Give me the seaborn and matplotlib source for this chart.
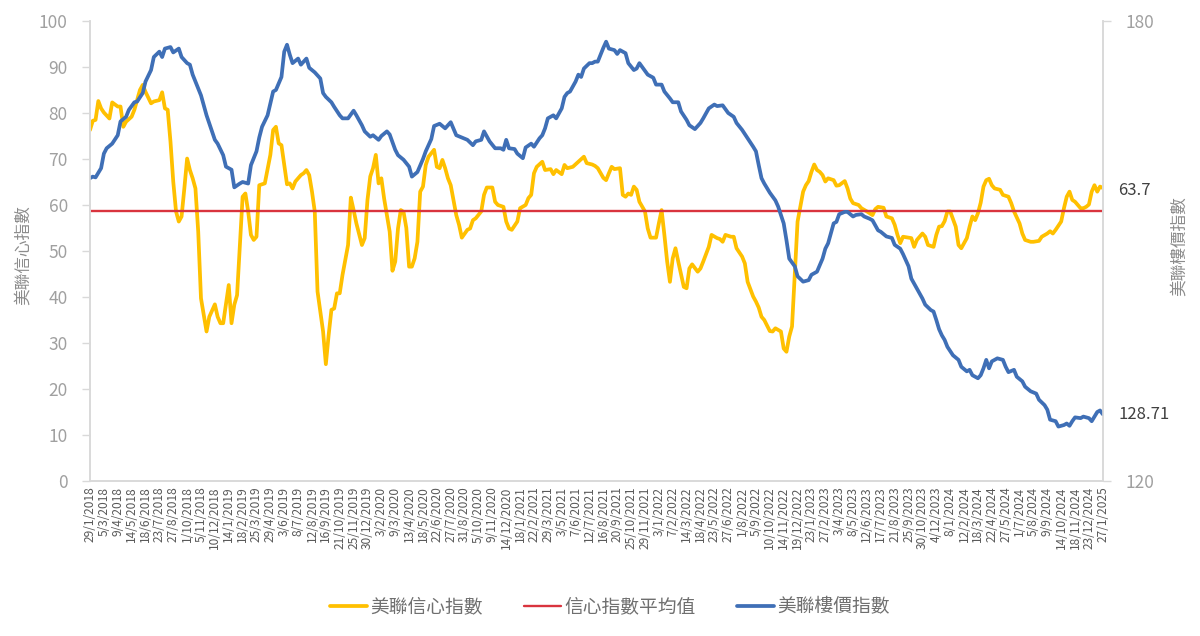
import numpy as np
import pandas as pd
import matplotlib
matplotlib.use("Agg")
import matplotlib.pyplot as plt
import seaborn as sns

# ---------------- data ----------------
start_date = "2018-01-29"      # first weekly observation (Mondays)
n_weeks = 366                  # 29/1/2018 .. 27/1/2025
tick_every = 5                 # a date label every 5 weeks

# 美聯信心指數 (left axis) : week number from start, value
conf_weeks = [0, 1, 2, 3, 4, 5, 7, 8, 10, 11, 12, 13, 15, 16, 18, 19, 20, 22, 23, 25, 26, 27, 28, 29, 30,
              31, 32, 33, 34, 35, 36, 37, 38, 39, 40, 41, 42, 43, 45, 46, 47, 48, 50, 51, 52, 53, 55, 56,
              57, 58, 59, 60, 61, 63, 65, 66, 67, 68, 69, 70, 71, 72, 73, 74, 76, 77, 78, 79, 80, 81, 82,
              84, 85, 86, 87, 88, 89, 90, 91, 93, 94, 95, 96, 98, 99, 100, 101, 102, 103, 104, 105, 106,
              108, 109, 110, 111, 112, 113, 114, 115, 116, 117, 118, 119, 120, 121, 122, 124, 125, 126,
              127, 128, 129, 130, 132, 133, 134, 136, 137, 138, 139, 141, 142, 143, 145, 146, 147, 149,
              150, 151, 152, 154, 155, 157, 158, 159, 160, 161, 163, 164, 166, 167, 168, 170, 171, 172,
              174, 176, 178, 179, 181, 182, 183, 185, 186, 187, 188, 189, 191, 192, 193, 194, 195, 196,
              197, 198, 200, 201, 202, 204, 205, 206, 207, 208, 209, 210, 211, 212, 214, 215, 216, 217,
              219, 220, 221, 223, 224, 226, 227, 228, 229, 231, 232, 233, 235, 236, 237, 239, 240, 241,
              242, 243, 245, 246, 247, 249, 250, 251, 252, 253, 254, 255, 257, 258, 259, 260, 261, 262,
              263, 264, 265, 266, 268, 269, 270, 272, 273, 274, 275, 277, 278, 280, 282, 283, 284, 286,
              287, 289, 290, 291, 292, 293, 295, 296, 297, 298, 300, 301, 302, 304, 305, 306, 307, 308,
              309, 310, 312, 313, 314, 316, 317, 318, 319, 320, 321, 322, 323, 324, 325, 326, 328, 329,
              331, 332, 333, 335, 336, 337, 339, 340, 342, 343, 345, 346, 347, 348, 350, 351, 352, 353,
              354, 355, 357, 358, 359, 360, 361, 362, 363, 364, 365]
conf_values = [76.3, 78.3, 78.5, 82.6, 81.0, 80.1, 78.8, 82.3, 81.4, 81.4, 77.0, 78.1, 79.2, 80.7, 85.0,
               86.1, 84.6, 82.1, 82.5, 82.8, 84.5, 81.0, 80.7, 73.8, 65.1, 58.6, 56.4, 57.5, 63.6, 70.1,
               67.6, 65.8, 63.6, 54.2, 39.7, 36.1, 32.5, 35.7, 38.4, 35.7, 34.3, 34.3, 42.6, 34.3, 38.3,
               40.4, 61.8, 62.5, 58.6, 53.5, 52.4, 53.1, 64.3, 64.7, 70.9, 76.3, 77.0, 73.4, 73.0, 68.7,
               64.5, 64.7, 63.6, 65.1, 66.5, 66.9, 67.6, 66.5, 62.9, 58.6, 41.2, 32.5, 25.4, 31.7, 37.2,
               37.5, 40.8, 40.8, 44.8, 51.3, 61.6, 58.9, 56.0, 51.3, 52.8, 61.1, 66.2, 68.0, 70.9, 64.7,
               65.8, 61.4, 54.2, 45.7, 47.7, 54.9, 58.9, 58.5, 55.0, 46.6, 46.6, 48.4, 52.0, 62.9, 64.0,
               68.7, 70.5, 72.0, 68.3, 68.0, 69.8, 68.0, 65.8, 64.3, 57.8, 55.7, 52.9, 54.6, 54.9, 56.7,
               57.1, 58.6, 62.2, 63.8, 63.8, 60.7, 60.0, 59.6, 56.4, 54.9, 54.6, 56.4, 59.3, 60.0, 61.5,
               62.2, 66.9, 68.3, 69.4, 67.6, 67.8, 66.7, 67.6, 66.7, 68.7, 68.0, 68.3, 69.4, 70.5, 69.1,
               68.8, 68.5, 68.0, 65.9, 65.4, 66.9, 68.3, 67.8, 68.0, 62.2, 61.8, 62.5, 62.2, 64.0, 63.3,
               60.7, 58.6, 54.9, 52.9, 52.9, 56.0, 58.9, 53.5, 47.7, 43.3, 48.4, 50.6, 47.7, 42.2, 41.9,
               46.2, 47.1, 45.5, 46.2, 47.7, 50.9, 53.5, 52.8, 52.6, 52.0, 53.5, 53.1, 53.1, 50.6, 48.8,
               47.3, 43.3, 40.1, 39.0, 37.7, 35.7, 35.0, 32.6, 32.5, 33.2, 32.5, 28.8, 28.1, 31.4, 33.6,
               44.8, 56.4, 62.9, 64.3, 65.2, 67.2, 68.8, 67.6, 67.2, 66.5, 65.1, 65.8, 65.4, 64.2, 64.3,
               65.2, 63.6, 61.4, 60.4, 60.0, 59.3, 58.6, 57.8, 59.1, 59.6, 59.4, 57.5, 57.1, 55.7, 53.5,
               51.7, 53.1, 52.9, 52.8, 50.9, 52.4, 53.8, 53.1, 51.3, 50.9, 53.5, 55.3, 55.4, 56.5, 58.6,
               58.6, 55.3, 51.3, 50.6, 52.8, 55.3, 57.5, 56.7, 58.2, 60.5, 64.0, 65.4, 65.7, 64.3, 63.6,
               63.3, 62.2, 61.8, 60.4, 58.6, 56.0, 53.8, 52.4, 52.0, 52.0, 52.2, 53.1, 53.8, 54.3, 53.8,
               54.6, 56.4, 59.3, 61.8, 62.9, 61.1, 60.7, 59.3, 59.3, 59.6, 60.1, 62.9, 64.3, 62.9, 64.0,
               63.7]

# 信心指數平均值 (left axis)
conf_average = 58.6

# 美聯樓價指數 (right axis)
price_weeks = [0, 1, 2, 4, 5, 6, 8, 10, 11, 13, 14, 16, 17, 19, 20, 22, 23, 25, 26, 27, 29, 30, 32, 33,
               35, 36, 37, 39, 40, 42, 45, 46, 48, 49, 51, 52, 54, 55, 57, 58, 60, 61, 62, 64, 66, 67, 69,
               70, 71, 72, 73, 75, 76, 78, 79, 81, 83, 84, 85, 87, 88, 90, 91, 93, 95, 96, 98, 99, 101,
               102, 104, 105, 107, 108, 110, 111, 113, 115, 116, 118, 120, 121, 123, 124, 126, 128, 130,
               132, 134, 136, 138, 139, 141, 142, 144, 146, 148, 149, 150, 151, 153, 154, 156, 157, 159,
               160, 162, 163, 164, 165, 167, 168, 170, 171, 172, 173, 175, 176, 177, 178, 180, 181, 182,
               183, 184, 185, 186, 187, 189, 190, 191, 193, 194, 196, 197, 198, 200, 201, 203, 204, 206,
               207, 209, 210, 212, 213, 215, 216, 218, 220, 221, 223, 225, 226, 228, 230, 232, 233, 235,
               237, 239, 240, 241, 242, 243, 245, 247, 248, 250, 251, 252, 254, 255, 257, 259, 260, 262,
               264, 265, 266, 268, 269, 270, 272, 273, 275, 276, 278, 279, 281, 282, 284, 285, 287, 289,
               290, 292, 293, 295, 296, 298, 300, 301, 303, 304, 305, 306, 307, 308, 309, 311, 313, 314,
               316, 317, 318, 320, 321, 322, 323, 324, 325, 327, 329, 330, 331, 333, 334, 336, 337, 339,
               341, 342, 344, 345, 346, 348, 349, 351, 352, 353, 354, 355, 357, 358, 360, 361, 362, 363,
               364, 365]
price_values = [159.5, 159.7, 159.6, 160.8, 162.7, 163.4, 164.0, 165.1, 166.9, 167.5, 168.4, 169.4,
                169.5, 170.6, 172.1, 173.6, 175.3, 176.0, 175.3, 176.4, 176.6, 175.9, 176.4, 175.3,
                174.5, 174.3, 173.0, 171.2, 170.3, 167.7, 164.5, 164.0, 162.5, 161.0, 160.6, 158.3,
                158.8, 159.0, 158.8, 161.2, 163.0, 164.8, 166.2, 167.7, 170.8, 171.0, 172.7, 176.0,
                176.9, 175.6, 174.5, 175.1, 174.3, 175.1, 173.9, 173.3, 172.5, 170.6, 170.1, 169.4,
                168.8, 167.7, 167.3, 167.3, 168.3, 167.7, 166.4, 165.6, 164.9, 165.1, 164.5, 165.0,
                165.6, 165.2, 163.2, 162.5, 161.9, 161.0, 159.7, 160.3, 162.0, 163.0, 164.6, 166.3,
                166.6, 166.0, 166.8, 165.1, 164.8, 164.5, 163.8, 164.3, 164.5, 165.6, 164.3, 163.4,
                163.4, 163.2, 164.5, 163.4, 163.3, 162.7, 162.1, 163.5, 164.0, 163.6, 164.7, 165.1,
                166.0, 167.3, 167.7, 167.3, 168.6, 170.1, 170.6, 170.8, 172.1, 173.0, 172.7, 173.8,
                174.5, 174.5, 174.7, 174.7, 175.6, 176.5, 177.3, 176.4, 176.2, 175.7, 176.2, 175.8,
                174.5, 173.6, 173.8, 174.5, 173.5, 173.0, 172.6, 171.7, 171.7, 170.8, 169.9, 169.4,
                169.4, 168.2, 167.1, 166.4, 165.9, 166.7, 167.3, 168.6, 169.1, 168.9, 169.0, 168.0,
                167.5, 166.7, 165.8, 164.7, 163.6, 163.0, 161.2, 159.5, 158.8, 157.6, 156.6, 155.8,
                153.6, 151.4, 149.0, 148.0, 146.7, 146.0, 146.2, 146.9, 147.3, 149.0, 150.3, 151.0,
                153.6, 153.8, 154.8, 155.1, 155.1, 154.5, 154.7, 154.8, 154.5, 154.2, 154.0, 152.7,
                152.5, 151.9, 151.7, 150.8, 150.3, 149.6, 148.0, 146.4, 145.1, 143.8, 143.0, 142.3,
                142.1, 141.0, 139.8, 139.0, 138.4, 137.5, 136.4, 135.8, 134.9, 134.3, 134.5, 133.8,
                133.4, 133.8, 134.7, 135.8, 134.7, 135.6, 136.0, 135.8, 134.9, 134.2, 134.5, 133.6,
                133.0, 132.3, 131.7, 131.4, 130.6, 129.9, 129.3, 128.0, 127.8, 127.1, 127.3, 127.5,
                127.2, 127.8, 128.3, 128.2, 128.4, 128.2, 127.8, 128.4, 129.0, 129.2, 128.71]

series_names = ["美聯信心指數", "信心指數平均值", "美聯樓價指數"]
left_ticks = list(range(0, 101, 10))
right_ticks = [120, 180]

# ---------------- build frames ----------------
all_dates = pd.date_range(start_date, periods=n_weeks, freq="7D")
tick_weeks = list(range(0, n_weeks, tick_every))
tick_labels = [f"{d.day}/{d.month}/{d.year}" for d in all_dates[tick_weeks]]

conf_df = pd.DataFrame({"week": conf_weeks, "value": conf_values})
price_df = pd.DataFrame({"week": price_weeks, "value": price_values})
avg_df = pd.DataFrame({"week": [0, n_weeks - 1], "value": [conf_average, conf_average]})

# ---------------- style ----------------
sns.set_theme(style="white")
plt.rcParams["font.family"] = ["Noto Sans CJK TC", "DejaVu Sans"]

YELLOW = "#FFC000"
RED = "#D9343E"
BLUE = "#3F6FB6"
SPINE = "#D9D9D9"
TICK_TXT = "#A0A0A0"
TITLE_TXT = "#8C8C8C"
LEG_TXT = "#6F6F6F"

fig = plt.figure(figsize=(12, 6.36), dpi=100)
ax = fig.add_axes([0.075, 0.2437, 0.844, 0.7233])
ax2 = ax.twinx()

sns.lineplot(data=conf_df, x="week", y="value", ax=ax, color=YELLOW, lw=2.7,
             label=series_names[0], legend=False)
sns.lineplot(data=avg_df, x="week", y="value", ax=ax, color=RED, lw=1.7,
             label=series_names[1], legend=False)
sns.lineplot(data=price_df, x="week", y="value", ax=ax2, color=BLUE, lw=2.7,
             label=series_names[2], legend=False)

ax.set_xlim(0, n_weeks - 1)
ax.set_ylim(0, 100)
ax2.set_ylim(120, 180)

ax.set_yticks(left_ticks)
ax2.set_yticks(right_ticks)
ax.set_xticks(tick_weeks)
ax.set_xticklabels(tick_labels, rotation=90, fontsize=8.6, color="#595959", va="top", ha="center")

ax.tick_params(axis="y", which="both", length=6, width=1, color=SPINE, labelsize=12.5,
               labelcolor=TICK_TXT, pad=10, left=True)
ax.tick_params(axis="x", length=0, pad=4)
ax2.tick_params(axis="y", which="both", length=6, width=1, color=SPINE, labelsize=12.5,
                labelcolor=TICK_TXT, pad=10, right=True)

ax.set_xlabel("")
ax.set_ylabel(series_names[0], fontsize=12, color=TITLE_TXT)
ax2.set_ylabel(series_names[2], fontsize=12, color=TITLE_TXT, rotation=90)
ax.yaxis.set_label_coords(-0.057, 0.49)
ax2.yaxis.set_label_coords(1.068, 0.51)

for a in (ax, ax2):
    a.grid(False)
    a.spines["top"].set_visible(False)
    for s in ("left", "right", "bottom"):
        a.spines[s].set_color(SPINE)
        a.spines[s].set_linewidth(1.2)

# data labels at the last point
ax.annotate(f"{conf_values[-1]:.1f}", xy=(conf_weeks[-1], conf_values[-1]), xytext=(11, -2),
            textcoords="offset points", fontsize=12, color="#404040", va="center", ha="left",
            annotation_clip=False)
ax2.annotate(f"{price_values[-1]:.2f}", xy=(price_weeks[-1], price_values[-1]), xytext=(11, 0),
             textcoords="offset points", fontsize=12, color="#404040", va="center", ha="left",
             annotation_clip=False)

handles = ax.get_lines()[:2] + ax2.get_lines()[:1]
fig.legend(handles, series_names, loc="center", bbox_to_anchor=(0.508, 0.046), ncol=3,
           frameon=False, fontsize=13.5, handlelength=2.0, handletextpad=0.15,
           columnspacing=2.2, labelcolor=LEG_TXT)

fig.savefig("out.png", dpi=100)
